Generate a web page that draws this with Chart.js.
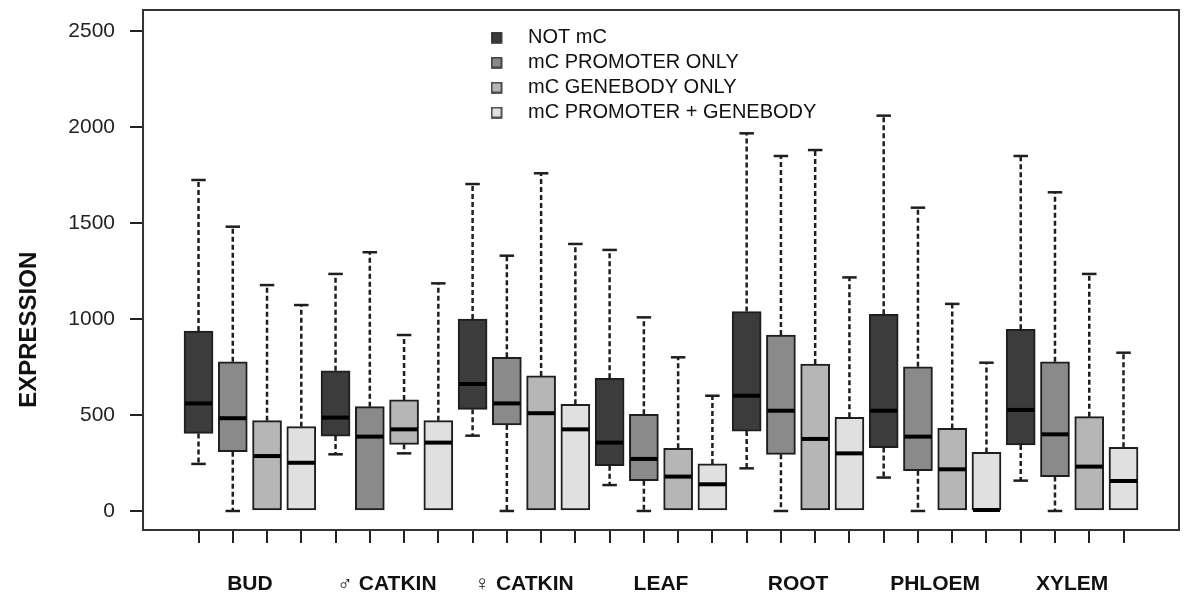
<!DOCTYPE html>
<html>
<head>
<meta charset="utf-8">
<script src="https://cdn.jsdelivr.net/npm/chart.js@4/dist/chart.umd.min.js"></script>
<style>
  html, body { margin: 0; padding: 0; background: #fff; }
  #wrap { width: 1200px; height: 616px; }
</style>
</head>
<body>
<div id="wrap"><canvas id="chart" width="1200" height="616"></canvas></div>
<script>
const groups = ['BUD', '\u2642 CATKIN', '\u2640 CATKIN', 'LEAF', 'ROOT', 'PHLOEM', 'XYLEM'];
const seriesNames = ['NOT mC', 'mC PROMOTER ONLY', 'mC GENEBODY ONLY', 'mC PROMOTER + GENEBODY'];
const seriesColors = ['#3c3c3c', '#8a8a8a', '#b6b6b6', '#e0e0e0'];
const yTicks = [0, 500, 1000, 1500, 2000, 2500];

// one row per series, one value per tissue group
const whiskerHigh = [
    [1723, 1234, 1702, 1359, 1966, 2058, 1848],
    [1480, 1347, 1329, 1008, 1848, 1579, 1659],
    [1176, 916, 1758, 800, 1879, 1078, 1234],
    [1072, 1185, 1390, 600, 1216, 772, 824]
];
const q3 = [
    [937, 730, 999, 691, 1038, 1024, 946],
    [777, 543, 800, 503, 916, 751, 777],
    [470, 578, 703, 326, 765, 430, 491],
    [439, 470, 555, 245, 488, 305, 332]
];
const median = [
    [560, 486, 661, 356, 600, 522, 526],
    [483, 387, 560, 271, 522, 387, 399],
    [286, 425, 509, 179, 375, 217, 231],
    [251, 356, 425, 139, 300, 0, 156]
];
const q1 = [
    [404, 390, 529, 236, 416, 330, 344],
    [309, 0, 448, 158, 295, 210, 179],
    [0, 347, 0, 0, 0, 0, 0],
    [0, 0, 0, 0, 0, 0, 0]
];
const whiskerLow = [
    [245, 295, 392, 135, 222, 174, 158],
    [0, 0, 0, 0, 0, 0, 0],
    [0, 300, 0, 0, 0, 0, 0],
    [0, 0, 0, 0, 0, 0, 0]
];

const FONT = "'Liberation Sans', Arial, Helvetica, sans-serif";
const INK = '#1e1e1e';

// box positions 1..28, four boxes per tissue
const positions = [];
groups.forEach((g, gi) => seriesNames.forEach((s, si) => positions.push(gi * 4 + si + 1)));
const groupCenters = groups.map((g, gi) => gi * 4 + 2.5);

function legendIcon(color) {
    const c = document.createElement('canvas');
    c.width = 28;
    c.height = 12;
    const g = c.getContext('2d');
    g.fillStyle = color;
    g.fillRect(1, 1, 10, 10);
    g.strokeStyle = '#222';
    g.lineWidth = 1.5;
    g.strokeRect(1, 1, 10, 10);
    return c;
}
const legendIcons = seriesColors.map(legendIcon);

const datasets = seriesNames.map((name, s) => ({
    label: name,
    data: groups.map((g, gi) => ({ x: gi * 4 + s + 1, y: [q1[s][gi], q3[s][gi]] })),
    backgroundColor: seriesColors[s],
    borderColor: INK,
    borderWidth: 2,
    borderSkipped: false,
    barThickness: 29,
    grouped: false
}));

// whiskers + caps behind the boxes, medians on top
const boxParts = {
    id: 'boxParts',
    beforeDatasetsDraw(chart) {
        const { ctx } = chart;
        const y = chart.scales.y;
        ctx.save();
        ctx.strokeStyle = INK;
        ctx.lineWidth = 2.5;
        chart.data.datasets.forEach((ds, s) => {
            chart.getDatasetMeta(s).data.forEach((bar, gi) => {
                const half = bar.width / 4;
                const pairs = [[q3[s][gi], whiskerHigh[s][gi]], [q1[s][gi], whiskerLow[s][gi]]];
                pairs.forEach(([from, to]) => {
                    if (from === to) return;
                    const y0 = y.getPixelForValue(from);
                    const y1 = y.getPixelForValue(to);
                    ctx.setLineDash([5, 3]);
                    ctx.beginPath();
                    ctx.moveTo(bar.x, y0);
                    ctx.lineTo(bar.x, y1);
                    ctx.stroke();
                    ctx.setLineDash([]);
                    ctx.beginPath();
                    ctx.moveTo(bar.x - half, y1);
                    ctx.lineTo(bar.x + half, y1);
                    ctx.stroke();
                });
            });
        });
        ctx.restore();
    },
    afterDatasetsDraw(chart) {
        const { ctx, chartArea } = chart;
        const y = chart.scales.y;
        ctx.save();
        ctx.strokeStyle = '#000';
        ctx.lineWidth = 4;
        chart.data.datasets.forEach((ds, s) => {
            chart.getDatasetMeta(s).data.forEach((bar, gi) => {
                const py = Math.min(y.getPixelForValue(median[s][gi]), y.getPixelForValue(0) - 1);
                ctx.beginPath();
                ctx.moveTo(bar.x - bar.width / 2 + 1, py);
                ctx.lineTo(bar.x + bar.width / 2 - 1, py);
                ctx.stroke();
            });
        });
        // plot frame
        ctx.strokeStyle = '#333';
        ctx.lineWidth = 2;
        ctx.strokeRect(chartArea.left, chartArea.top, chartArea.right - chartArea.left, chartArea.bottom - chartArea.top);
        ctx.restore();
    },
    afterDraw(chart) {
        const { ctx, chartArea } = chart;
        ctx.save();
        ctx.translate(29, chartArea.top + (chartArea.bottom - chartArea.top) * 0.615);
        ctx.rotate(-Math.PI / 2);
        ctx.font = 'bold 24px ' + FONT;
        ctx.fillStyle = '#111';
        ctx.textAlign = 'center';
        ctx.textBaseline = 'middle';
        ctx.fillText('EXPRESSION', 0, 0);
        ctx.restore();
    }
};

// legend sits inside the plot, a bit right of the middle
const legendPlace = {
    id: 'legendPlace',
    afterLayout(chart) {
        const lg = chart.legend;
        const area = chart.chartArea;
        lg.left = area.left + 343;
        lg.right = lg.left + lg.width;
        lg.top = area.top + 12.5;
        lg.bottom = lg.top + lg.height;
    }
};

new Chart(document.getElementById('chart'), {
    type: 'bar',
    data: { datasets },
    options: {
        responsive: false,
        animation: false,
        devicePixelRatio: 1,
        layout: { padding: { left: 53.3, top: 10, right: 21, bottom: 0 } },
        plugins: {
            tooltip: { enabled: false },
            legend: {
                position: 'chartArea',
                fullSize: false,
                align: 'start',
                labels: {
                    usePointStyle: true,
                    pointStyleWidth: 27,
                    padding: 5,
                    color: '#111',
                    font: { family: FONT, size: 20 },
                    generateLabels: (chart) => Chart.defaults.plugins.legend.labels.generateLabels(chart)
                        .map((item, i) => ({ ...item, pointStyle: legendIcons[i] }))
                }
            }
        },
        scales: {
            x: {
                type: 'linear',
                min: -0.62,
                max: 29.62,
                offset: false,
                afterBuildTicks: (axis) => { axis.ticks = positions.map(v => ({ value: v })); },
                ticks: { display: false },
                grid: { offset: false, drawOnChartArea: false, tickLength: 13, lineWidth: 2, tickColor: '#222' },
                border: { display: false }
            },
            groups: {
                type: 'linear',
                position: 'bottom',
                min: -0.62,
                max: 29.62,
                offset: false,
                afterBuildTicks: (axis) => { axis.ticks = groupCenters.map(v => ({ value: v })); },
                afterFit: (axis) => { axis.height = 73; },
                ticks: {
                    padding: 29,
                    maxRotation: 0,
                    autoSkip: false,
                    color: '#111',
                    font: { family: FONT, size: 21, weight: 'bold' },
                    callback: (v, i) => groups[i]
                },
                grid: { display: false, drawTicks: false },
                border: { display: false }
            },
            y: {
                min: -99,
                max: 2608,
                afterBuildTicks: (axis) => { axis.ticks = yTicks.map(v => ({ value: v })); },
                afterFit: (axis) => { axis.paddingTop = 0; axis.paddingBottom = 0; },
                ticks: { padding: 15, color: '#222', font: { family: FONT, size: 21 }, callback: (v) => String(v) },
                grid: { drawOnChartArea: false, tickLength: 13, lineWidth: 2, tickColor: '#222' },
                border: { display: false }
            }
        }
    },
    plugins: [boxParts, legendPlace]
});
</script>
</body>
</html>
